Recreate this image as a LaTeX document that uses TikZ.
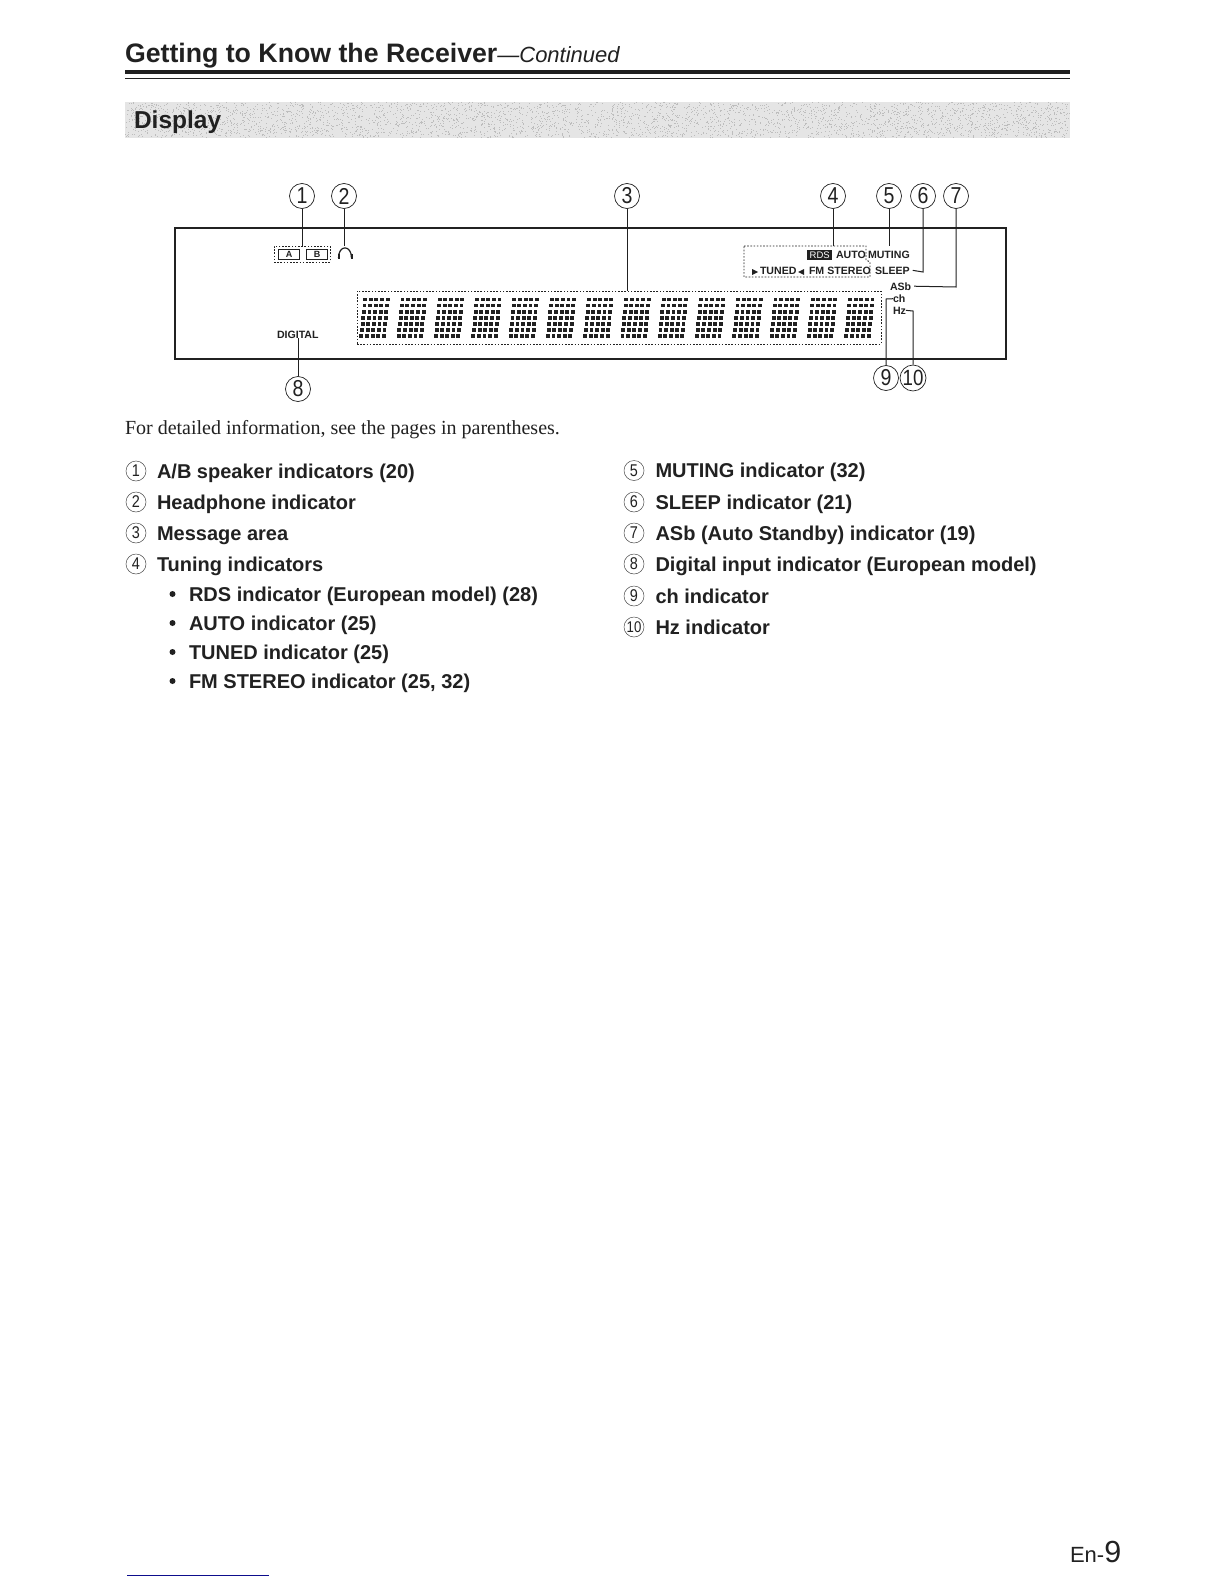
\documentclass[tikz,border=0pt]{standalone}
\usepackage{fontspec}
\setmainfont{Liberation Sans}
\newfontfamily\serifface{Liberation Serif}
\newfontfamily\numface[FakeStretch=0.85]{Liberation Sans}
\usetikzlibrary{calc}
\definecolor{ink}{gray}{0.13}
\definecolor{bandgray}{gray}{0.90}
\definecolor{speckgray}{gray}{0.74}
\definecolor{footblue}{rgb}{0.05,0.05,0.55}
\newcommand{\fs}[1]{\fontsize{#1}{#1}\selectfont}
\tikzset{
  pagetext/.style={anchor=base west,inner sep=0pt,outer sep=0pt,text=ink},
  listtext/.style={pagetext,font=\fs{20}\bfseries},
  paneltext/.style={pagetext,font=\fs{10.6}\bfseries},
  callout/.style={circle,draw=ink,line width=0.7pt,minimum size=25pt,inner sep=0pt,font=\fs{23}\numface,text=ink,fill=white},
  listnum/.style={circle,draw=ink!80,line width=0.5pt,minimum size=20pt,inner sep=0pt,font=\fs{17}\numface,text=ink},
  leader/.style={draw=ink,line width=1pt},
  dotbox/.style={draw=ink,line width=0.9pt,dash pattern=on 1.6pt off 1.6pt},
  lampbox/.style={draw=ink,line width=1.2pt,inner sep=0pt,font=\fs{9}\bfseries,text=ink,minimum width=21pt,minimum height=10pt},
}
\begin{document}
\begin{tikzpicture}[x=1pt,y=-1pt]
\useasboundingbox (0,0) rectangle (1224,1584);
\fill[white] (0,0) rectangle (1224,1584);
% header
\node[pagetext,font=\fs{26.7}\bfseries] (title) at (125,62.5) {Getting to Know the Receiver};
\node[pagetext,font=\fs{22}\itshape,anchor=base west] (cont) at (title.base east) {—Continued};
\fill[ink] (125,70) rectangle (1070,74.5);
\fill[ink] (125,78) rectangle (1070,79.5);
\fill[bandgray] (125,102) rectangle (1070,138);
\pgfmathsetseed{4711}
\foreach \k in {1,...,3600}{
  \pgfmathsetmacro{\sx}{125+944*rnd}
  \pgfmathsetmacro{\sy}{102+35*rnd}
  \fill[speckgray] (\sx,\sy) rectangle ++(1,1);
}
\node[pagetext,font=\fs{24.5}\bfseries] (dsp) at (134,128.5) {Display};
% panel
\node[draw=ink,line width=2pt,minimum width=831pt,minimum height=131pt,anchor=north west,inner sep=0pt,outer sep=0pt] (panel) at (175,228) {};
% message area
\node[dotbox,minimum width=524pt,minimum height=53pt,anchor=north west,inner sep=0pt,outer sep=0pt] (msg) at (357,291) {};
\foreach \d in {0,...,13}{
  \foreach \r in {0,...,6}{
    \foreach \c in {0,...,4}{
      \fill[ink] ({363.2+37.3*\d+5.6*\c-0.62*\r},{299.4+6.15*\r-1.9}) rectangle ++(3.9,3.8);
    }
  }
}
% A/B indicators
\node[dotbox,minimum width=56pt,minimum height=16pt,anchor=north west,inner sep=0pt,outer sep=0pt] (ab) at (274,246) {};
\node[lampbox,anchor=north west] (lampa) at (278,249) {A};
\node[lampbox,anchor=north west] (lampb) at (306,249) {B};
% headphone
\coordinate (hp) at (345,245.5);
\draw[ink,line width=1.2pt] (338.5,258) .. controls (338.5,244.5) and (351.5,244.5) .. (351.5,258);
\fill[ink] (337.5,254) rectangle (339.5,259);
\fill[ink] (350.5,254) rectangle (352.5,259);
% tuning block
\draw[dotbox] (744,246) -- (866,246) -- (866,260) -- (870,262) -- (870,277) -- (744,277) -- cycle;
\node[minimum width=25pt,minimum height=9.5pt,inner sep=0pt,fill=ink,text=white,font=\fs{9.5},anchor=north west] (rds) at (807,249.8) {RDS};
\node[paneltext] (auto) at (836,258) {AUTO};
\node[paneltext] (muting) at (868,258) {MUTING};
\fill[ink] (752,269) -- (758,272) -- (752,275) -- cycle;
\node[paneltext] (tuned) at (760,274) {TUNED};
\fill[ink] (804,269) -- (798,272) -- (804,275) -- cycle;
\node[paneltext] (fmst) at (809,274) {FM STEREO};
\node[paneltext] (sleep) at (875,274) {SLEEP};
\node[paneltext] (asb) at (890,290) {ASb};
\node[paneltext] (chl) at (893,302.5) {ch};
\node[paneltext] (hzl) at (893,314) {Hz};
\node[paneltext] (digital) at (277,338) {DIGITAL};
% callouts
\node[callout] (c1) at (302,196) {1};
\node[callout] (c2) at (344,196) {2};
\node[callout] (c3) at (627,196) {3};
\node[callout] (c4) at (833,196) {4};
\node[callout] (c5) at (889,196) {5};
\node[callout] (c6) at (923,196) {6};
\node[callout] (c7) at (956,196) {7};
\node[callout] (c8) at (298,389) {8};
\node[callout] (c9) at (886,378) {9};
\node[callout,font=\fs{22}\numface] (c10) at (913,378) {10};
% leaders
\draw[leader] (c1) -- (c1 |- ab.north);
\draw[leader] (c2) -- (c2 |- hp);
\draw[leader] (c3) -- (c3 |- msg.north);
\draw[leader] (c4) -- (833,246);
\draw[leader] (c5) -- (889,246);
\draw[leader] (c6) -- (923,272) -- ($(sleep.east)+(3,0)$);
\draw[leader] (c7) -- (956,287) -- ($(asb.east)+(3,0)$);
\draw[leader] (c8) -- (c8 |- digital.south);
\draw[leader] (c9) -- (886,299) -- (chl.west);
\draw[leader] (c10) -- (913,311) -- (hzl.east);
% intro
\node[pagetext,font=\fs{20}\serifface,text=ink] (intro) at (125,434) {For detailed information, see the pages in parentheses.};
% left list
\node[listnum] (n1) at (136,471) {1};
\node[listtext] (t1) at (157,478) {A/B speaker indicators (20)};
\node[listnum] (n2) at (136,502) {2};
\node[listtext] (t2) at (157,509) {Headphone indicator};
\node[listnum] (n3) at (136,533) {3};
\node[listtext] (t3) at (157,540) {Message area};
\node[listnum] (n4) at (136,564) {4};
\node[listtext] (t4) at (157,571.5) {Tuning indicators};
\foreach \yy/\nm/\tx in {601.5/s1/RDS indicator (European model) (28),630.5/s2/AUTO indicator (25),659.5/s3/TUNED indicator (25),688.5/s4/{FM STEREO indicator (25, 32)}}{
  \fill[ink] (172.5,\yy-7.5) circle (3pt);
  \node[listtext] (\nm) at (189,\yy) {\tx};
}
% right list
\node[listnum] (n5) at (634,470.5) {5};
\node[listtext] (t5) at (655.5,477.5) {MUTING indicator (32)};
\node[listnum] (n6) at (634,502) {6};
\node[listtext] (t6) at (655.5,509) {SLEEP indicator (21)};
\node[listnum] (n7) at (634,533) {7};
\node[listtext] (t7) at (655.5,540) {ASb (Auto Standby) indicator (19)};
\node[listnum] (n8) at (634,564) {8};
\node[listtext] (t8) at (655.5,571.5) {Digital input indicator (European model)};
\node[listnum] (n9) at (634,596) {9};
\node[listtext] (t9) at (655.5,603) {ch indicator};
\node[listnum,font=\fs{15.5}\numface] (n10) at (634,627) {10};
\node[listtext] (t10) at (655.5,634) {Hz indicator};
% footer
\node[pagetext,font=\fs{22}] (en) at (1070,1562) {En-};
\node[pagetext,font=\fs{30.5}] (pg) at (en.base east) {9};
\fill[footblue] (127,1574.5) rectangle (269,1575.8);
\end{tikzpicture}
\end{document}
